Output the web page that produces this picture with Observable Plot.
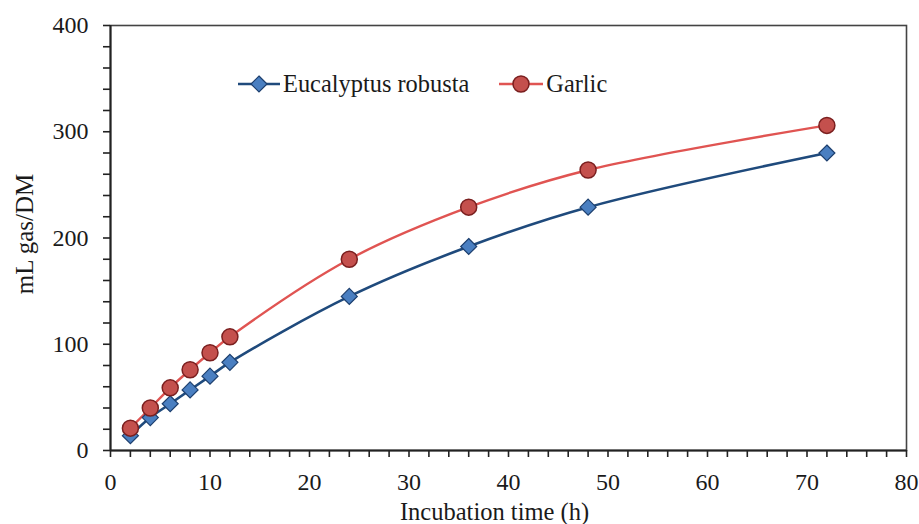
<!DOCTYPE html>
<html>
<head>
<meta charset="utf-8">
<script src="https://cdn.jsdelivr.net/npm/d3@7"></script>
<script src="https://cdn.jsdelivr.net/npm/@observablehq/plot@0.6"></script>
<style>
  body { margin: 0; background: #fff; }
  #wrap { position: relative; width: 919px; height: 524px; font-family: "Liberation Serif", "Times New Roman", serif; }
  #legend { position: absolute; left: 238px; top: 70px; display: flex; align-items: center; font-size: 24.4px; color: #1a1a1a; }
  #legend .item { display: flex; align-items: center; }
  #legend svg { display: block; }
</style>
</head>
<body>
<div id="wrap"></div>
<script>
const hours = [2, 4, 6, 8, 10, 12, 24, 36, 48, 72];
const eucalyptus = [14, 31, 44, 57, 70, 83, 145, 192, 229, 280];
const garlic = [21, 40, 59, 76, 92, 107, 180, 229, 264, 306];
const seriesNames = ["Eucalyptus robusta", "Garlic"];
const xTicks = d3.range(0, 81, 2);
const yTicks = d3.range(0, 401, 20);

const euc = hours.map((h, i) => ({h, v: eucalyptus[i]}));
const gar = hours.map((h, i) => ({h, v: garlic[i]}));

const blueLine = "#1f4a7c", blueFill = "#4a7fc1", blueStroke = "#1d3f6e";
const redLine = "#e05452", redFill = "#c4504d", redStroke = "#7a1f1f";
const font = "'Liberation Serif', 'Times New Roman', serif";

const chart = Plot.plot({
  width: 919,
  height: 524,
  marginLeft: 110,
  marginRight: 13,
  marginTop: 25,
  marginBottom: 74,
  style: {fontFamily: font, fontSize: "24px", color: "#1a1a1a", background: "#fff"},
  x: {domain: [0, 80]},
  y: {domain: [0, 400]},
  marks: [
    Plot.frame({stroke: "#444", strokeWidth: 1.6}),
    Plot.axisX({ticks: xTicks, tickFormat: d => d % 10 === 0 ? d : "", tickSize: 7, tickPadding: 15, label: null, stroke: "#222", strokeWidth: 1.6}),
    Plot.axisY({ticks: yTicks, tickFormat: d => d % 100 === 0 ? d : "", tickSize: 7, tickPadding: 15, label: null, stroke: "#222", strokeWidth: 1.6}),
    Plot.ruleX([0], {stroke: "#222", strokeWidth: 2}),
    Plot.ruleY([0], {stroke: "#222", strokeWidth: 2}),
    Plot.line(euc, {x: "h", y: "v", stroke: blueLine, strokeWidth: 2.6, curve: "catmull-rom"}),
    Plot.line(gar, {x: "h", y: "v", stroke: redLine, strokeWidth: 2.4, curve: "catmull-rom"}),
    Plot.dot(euc, {x: "h", y: "v", symbol: "diamond2", r: 7.2, fill: blueFill, stroke: blueStroke, strokeWidth: 1.2}),
    Plot.dot(gar, {x: "h", y: "v", symbol: "circle", r: 8, fill: redFill, stroke: redStroke, strokeWidth: 1.5}),
    Plot.text(["Incubation time (h)"], {frameAnchor: "bottom", dy: 62, dx: -14, lineAnchor: "middle", fontSize: 24.5, fill: "#1a1a1a"}),
    Plot.text(["mL gas/DM"], {frameAnchor: "left", dx: -86, dy: -4, rotate: -90, textAnchor: "middle", lineAnchor: "middle", fontSize: 25, fill: "#1a1a1a"})
  ]
});

const wrap = document.getElementById("wrap");
wrap.appendChild(chart);

const legend = document.createElement("div");
legend.id = "legend";
const icon = (name) => {
  const isEuc = name === seriesNames[0];
  const ns = "http://www.w3.org/2000/svg";
  const s = document.createElementNS(ns, "svg");
  s.setAttribute("width", isEuc ? 42 : 44); s.setAttribute("height", 24);
  const w = isEuc ? 42 : 44, c = w / 2;
  const l = document.createElementNS(ns, "line");
  l.setAttribute("x1", 0); l.setAttribute("x2", w); l.setAttribute("y1", 12); l.setAttribute("y2", 12);
  l.setAttribute("stroke", isEuc ? blueLine : redLine); l.setAttribute("stroke-width", isEuc ? 2.6 : 2.4);
  s.appendChild(l);
  let m;
  if (isEuc) {
    m = document.createElementNS(ns, "path");
    m.setAttribute("d", `M${c},4L${c + 8},12L${c},20L${c - 8},12Z`);
    m.setAttribute("fill", blueFill); m.setAttribute("stroke", blueStroke); m.setAttribute("stroke-width", 1.2);
  } else {
    m = document.createElementNS(ns, "circle");
    m.setAttribute("cx", c); m.setAttribute("cy", 12); m.setAttribute("r", 8);
    m.setAttribute("fill", redFill); m.setAttribute("stroke", redStroke); m.setAttribute("stroke-width", 1.5);
  }
  s.appendChild(m);
  return s;
};
seriesNames.forEach((name, i) => {
  const item = document.createElement("div");
  item.className = "item";
  item.style.marginRight = i === 0 ? "30px" : "0";
  item.appendChild(icon(name));
  const t = document.createElement("span");
  t.textContent = name;
  t.style.marginLeft = "3px";
  item.appendChild(t);
  legend.appendChild(item);
});
wrap.appendChild(legend);
</script>
</body>
</html>
